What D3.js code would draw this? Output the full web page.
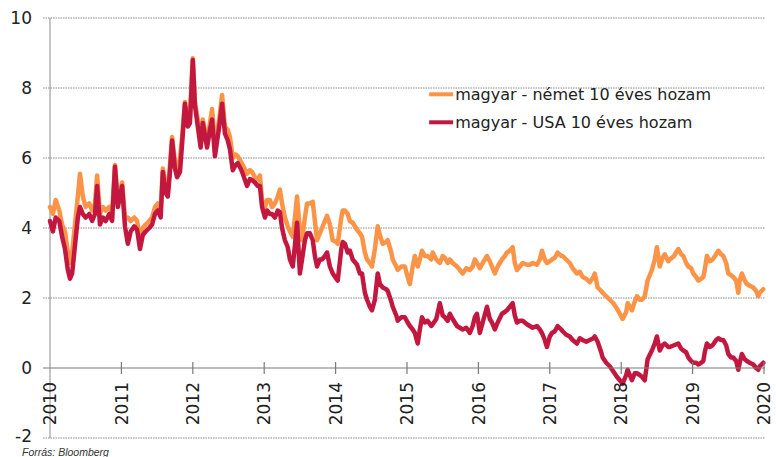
<!DOCTYPE html>
<html>
<head>
<meta charset="utf-8">
<title>magyar hozamfelar</title>
<script src="https://cdn.jsdelivr.net/npm/d3@7"></script>
<style>
body { margin: 0; padding: 0; background: #fff; }
svg { display: block; }
.grid line { stroke: #8a8a8a; stroke-width: 1; stroke-dasharray: 1.5,1; }
.ylab text { font-family: "DejaVu Sans", sans-serif; font-size: 17px; fill: #222; }
.xlab text { font-family: "DejaVu Sans", sans-serif; font-size: 17px; fill: #222; }
.legend text { font-family: "DejaVu Sans", sans-serif; font-size: 16px; fill: #222; }
.source { font-family: "Liberation Sans", Arial, sans-serif; font-size: 10.5px; font-style: italic; fill: #333; }
</style>
</head>
<body>
<svg id="chart" width="776" height="457"></svg>
<script>

// time axis (decimal years)
var years = [
2010.00,2010.04,2010.08,2010.13,2010.17,2010.21,2010.25,2010.28,2010.31,2010.35,2010.39,2010.42,2010.46,2010.50,2010.55,2010.59,2010.63,2010.66,2010.70,2010.74,2010.78,2010.83,2010.87,2010.91,2010.95,
2011.01,2011.05,2011.09,2011.13,2011.18,2011.22,2011.26,2011.30,2011.34,2011.39,2011.43,2011.47,2011.51,2011.55,2011.58,2011.62,2011.65,2011.68,2011.71,2011.75,2011.78,2011.82,2011.85,2011.89,2011.93,2011.96,
2012.00,2012.03,2012.07,2012.11,2012.14,2012.20,2012.24,2012.27,2012.31,2012.37,2012.41,2012.45,2012.49,2012.52,2012.56,2012.60,2012.63,2012.67,2012.70,2012.76,2012.80,2012.83,2012.87,2012.91,2012.94,2012.97,
2013.01,2013.04,2013.08,2013.11,2013.15,2013.19,2013.22,2013.25,2013.29,2013.33,2013.36,2013.40,2013.43,2013.46,2013.50,2013.53,2013.57,2013.60,2013.64,2013.68,2013.71,2013.74,2013.78,2013.81,2013.85,2013.88,2013.92,2013.96,
2014.01,2014.03,2014.08,2014.10,2014.13,2014.17,2014.20,2014.24,2014.30,2014.34,2014.37,2014.41,2014.44,2014.48,2014.51,2014.55,2014.59,2014.62,2014.66,2014.71,2014.73,2014.78,2014.80,2014.85,2014.87,2014.92,2014.97,
2015.01,2015.04,2015.08,2015.11,2015.15,2015.18,2015.21,2015.25,2015.29,2015.34,2015.36,2015.41,2015.46,2015.50,2015.53,2015.57,2015.60,2015.64,2015.70,2015.74,2015.78,2015.83,2015.88,2015.92,2015.95,2015.98,
2016.02,2016.06,2016.12,2016.16,2016.19,2016.23,2016.27,2016.33,2016.37,2016.40,2016.44,2016.48,2016.51,2016.54,2016.58,2016.62,2016.68,2016.72,2016.76,2016.82,2016.86,2016.89,2016.93,2016.96,
2017.00,2017.03,2017.07,2017.11,2017.16,2017.18,2017.23,2017.28,2017.32,2017.38,2017.42,2017.46,2017.51,2017.56,2017.61,2017.63,2017.67,2017.72,2017.74,2017.79,2017.84,2017.89,2017.94,2017.98,
2018.02,2018.07,2018.09,2018.15,2018.19,2018.22,2018.26,2018.29,2018.33,2018.37,2018.43,2018.47,2018.50,2018.54,2018.58,2018.61,2018.66,2018.68,2018.74,2018.80,2018.84,2018.87,2018.91,2018.94,2018.98,
2019.01,2019.05,2019.08,2019.12,2019.15,2019.17,2019.20,2019.24,2019.28,2019.33,2019.36,2019.40,2019.43,2019.47,2019.50,2019.54,2019.57,2019.61,2019.64,2019.66,2019.69,2019.73,2019.76,2019.80,2019.85,2019.89,2019.92,2019.94,2019.99
];

// magyar - német 10 éves hozam (orange)
var nemet = [
4.6,4.4,4.8,4.5,4.1,3.9,3.3,3.0,3.3,4.1,4.9,5.55,4.9,4.6,4.7,4.5,4.7,5.5,4.4,4.6,4.5,4.6,4.4,5.8,4.8,
5.3,4.3,4.3,4.2,4.3,4.2,3.7,4.0,4.1,4.2,4.3,4.6,4.7,4.5,5.7,5.3,5.0,5.8,6.6,5.9,5.6,6.0,6.6,7.6,7.0,7.2,
8.85,7.6,7.1,6.5,7.1,6.5,7.0,7.4,6.4,7.1,7.8,6.9,6.8,6.6,6.0,6.1,6.05,5.9,5.8,5.55,5.65,5.6,5.45,5.4,5.5,4.8,
4.6,4.8,4.8,4.6,4.7,4.9,5.1,4.7,4.3,4.05,3.9,3.75,4.3,4.9,3.9,3.65,4.3,4.7,4.7,4.75,4.2,3.65,3.85,4.0,4.2,4.35,4.1,3.65,
3.6,3.55,4.3,4.5,4.5,4.4,4.2,4.15,3.95,3.85,3.75,3.3,3.1,3.0,2.9,3.4,4.05,3.8,3.55,3.6,3.65,3.3,3.1,2.9,2.8,2.9,2.9,
2.6,2.4,2.9,3.2,2.9,3.1,3.35,3.2,3.2,3.1,3.3,3.1,3.0,3.2,3.15,3.0,3.1,3.0,2.9,2.8,2.7,2.85,2.8,2.9,3.1,3.0,
2.85,3.0,3.2,3.05,2.9,2.7,2.9,3.1,3.2,3.3,3.35,3.45,3.0,2.8,2.9,3.0,2.95,2.95,3.0,2.95,3.1,3.35,3.1,3.0,
3.05,3.1,3.15,3.3,3.2,3.2,3.1,3.0,2.85,2.7,2.75,2.6,2.55,2.45,2.6,2.7,2.3,2.2,2.15,2.05,1.95,1.85,1.7,1.55,
1.4,1.6,1.85,1.65,1.9,2.05,1.95,1.95,2.05,2.5,2.8,3.1,3.45,2.9,3.15,3.25,3.05,3.1,3.2,3.4,3.25,3.2,3.0,2.9,2.85,
2.7,2.6,2.5,2.55,2.6,2.8,3.2,3.05,3.1,3.25,3.35,3.25,3.2,3.0,2.7,2.65,2.6,2.5,2.15,2.5,2.7,2.5,2.4,2.35,2.3,2.2,2.05,2.15,2.25
];

// magyar - USA 10 éves hozam (red)
var usa = [
4.2,3.9,4.3,4.2,3.75,3.4,2.8,2.55,2.7,3.5,4.3,4.6,4.4,4.3,4.4,4.2,4.4,5.2,4.1,4.3,4.2,4.4,4.2,5.75,4.6,
5.2,4.05,3.55,3.9,4.05,3.95,3.4,3.8,3.9,4.0,4.1,4.4,4.5,4.3,5.6,5.0,4.9,5.6,6.5,5.7,5.45,5.6,6.4,7.55,6.9,7.0,
8.8,7.5,6.9,6.3,7.0,6.3,6.8,7.1,6.05,6.9,7.55,6.7,6.5,6.25,5.65,5.8,5.85,5.7,5.55,5.2,5.4,5.37,5.3,5.2,5.2,4.6,
4.3,4.5,4.4,4.4,4.3,4.5,4.45,4.0,3.65,3.45,3.1,2.9,3.5,4.15,2.7,3.1,3.65,3.85,3.85,3.65,3.2,2.9,3.1,3.1,3.2,3.3,2.9,2.7,
2.55,2.5,3.4,3.6,3.55,3.3,3.35,3.1,2.95,2.7,2.7,2.15,1.95,1.75,1.65,1.95,2.7,2.4,2.3,2.25,2.2,1.9,1.75,1.5,1.35,1.45,1.45,
1.3,1.2,1.1,1.0,0.7,1.1,1.45,1.3,1.35,1.2,1.25,1.4,1.85,1.5,1.45,1.35,1.55,1.4,1.2,1.15,1.1,1.15,1.0,1.2,1.45,1.55,
1.0,1.3,1.75,1.4,1.3,1.1,1.3,1.55,1.6,1.65,1.75,1.85,1.5,1.3,1.35,1.35,1.25,1.2,1.15,1.2,1.1,1.0,0.8,0.6,
0.9,1.0,1.05,1.2,1.1,1.05,0.95,0.9,0.8,0.7,0.85,0.8,0.75,0.8,0.85,0.9,0.75,0.45,0.3,0.15,0.05,-0.1,-0.25,-0.35,
-0.45,-0.2,-0.05,-0.35,-0.15,-0.15,-0.2,-0.25,-0.35,0.25,0.5,0.7,0.9,0.5,0.65,0.7,0.6,0.6,0.65,0.7,0.55,0.5,0.45,0.3,0.2,
0.15,0.15,0.1,0.15,0.2,0.45,0.7,0.6,0.65,0.8,0.85,0.8,0.8,0.65,0.4,0.3,0.3,0.2,-0.05,0.15,0.4,0.25,0.2,0.15,0.1,0.0,-0.05,0.05,0.15
];

var yTicks = [-2, 0, 2, 4, 6, 8, 10];
var xTicks = [2010, 2011, 2012, 2013, 2014, 2015, 2016, 2017, 2018, 2019, 2020];
var seriesNames = ["magyar - német 10 éves hozam", "magyar - USA 10 éves hozam"];
var seriesColors = ["#FB9447", "#C2183F"];
var sourceText = "Forrás: Bloomberg";

var margin = {top: 18, right: 12, bottom: 19, left: 50},
    width = 776 - margin.left - margin.right,
    height = 457 - margin.top - margin.bottom;

var svg = d3.select("#chart")
  .append("g")
  .attr("transform", "translate(" + margin.left + "," + margin.top + ")");

var x = d3.scaleLinear().domain([2010, 2020]).range([0, width]);
var y = d3.scaleLinear().domain([-2, 10]).range([height, 0]);

// dotted grid lines, with small ticks to the left of the axis
svg.append("g").attr("class", "grid")
  .selectAll("line")
  .data(yTicks.filter(function(d) { return d !== 0; }))
  .enter().append("line")
  .attr("x1", -7).attr("x2", width + 1)
  .attr("y1", function(d) { return y(d); })
  .attr("y2", function(d) { return y(d); });

// y axis line
svg.append("line")
  .attr("x1", 0).attr("x2", 0)
  .attr("y1", y(10)).attr("y2", y(-2))
  .attr("stroke", "#8a8a8a").attr("stroke-width", 1);

// y labels (plain hyphen for negatives, like the original)
var gy = svg.append("g").attr("class", "ylab")
  .call(d3.axisLeft(y).tickValues(yTicks).tickSize(0).tickPadding(18)
    .tickFormat(function(d) { return String(d); }));
gy.select(".domain").remove();
// the -2 label sits a touch higher so it clears the source line
gy.selectAll(".tick text").filter(function(d) { return d === -2; }).attr("dy", "0.2em");

// series
var line = d3.line()
  .x(function(d, i) { return x(years[i]); })
  .y(function(d) { return y(d); });

[nemet, usa].forEach(function(vals, k) {
  svg.append("path")
    .datum(vals)
    .attr("d", line)
    .attr("fill", "none")
    .attr("stroke", seriesColors[k])
    .attr("stroke-width", 4.5)
    .attr("stroke-linejoin", "round")
    .attr("stroke-linecap", "round");
});

// x axis at zero, ticks crossing the line
var gx = svg.append("g")
  .attr("class", "xlab")
  .attr("transform", "translate(0," + y(0) + ")");

gx.append("line")
  .attr("x1", -7).attr("x2", width + 1)
  .attr("stroke", "#7a7a7a").attr("stroke-width", 1.2);

gx.selectAll(".tk")
  .data(xTicks.slice(1))
  .enter().append("line")
  .attr("class", "tk")
  .attr("x1", function(d) { return x(d); })
  .attr("x2", function(d) { return x(d); })
  .attr("y1", -6).attr("y2", 6)
  .attr("stroke", "#7a7a7a").attr("stroke-width", 1.2);

gx.selectAll("text")
  .data(xTicks)
  .enter().append("text")
  .attr("transform", function(d) { return "translate(" + x(d) + ",14) rotate(-90)"; })
  .attr("dy", "0.36em")
  .attr("text-anchor", "end")
  .text(function(d) { return d; });

// legend
var lg = svg.append("g").attr("class", "legend")
  .attr("transform", "translate(" + x(2015.31) + "," + y(7.82) + ")");

seriesNames.forEach(function(name, i) {
  lg.append("line")
    .attr("x1", 0).attr("x2", 24)
    .attr("y1", i * 28).attr("y2", i * 28)
    .attr("stroke", seriesColors[i]).attr("stroke-width", 4);
  lg.append("text")
    .attr("x", 26).attr("y", i * 28)
    .attr("dy", "0.35em")
    .text(name);
});

d3.select("#chart").append("text")
  .attr("class", "source")
  .attr("x", 22).attr("y", 455.5)
  .text(sourceText);

</script>
</body>
</html>
